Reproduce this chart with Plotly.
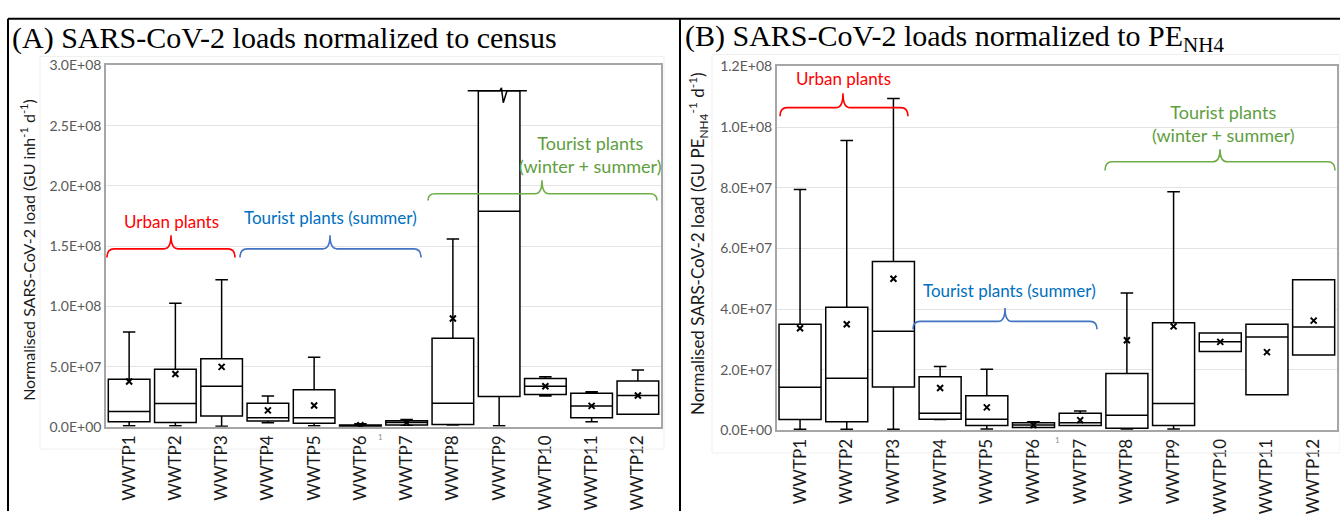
import plotly.graph_objects as go

# ---------------- data ----------------
categories = ["WWTP1", "WWTP2", "WWTP3", "WWTP4", "WWTP5", "WWTP6",
              "WWTP7", "WWTP8", "WWTP9", "WWTP10", "WWTP11", "WWTP12"]

# Panel A: loads normalised to census (GU inh-1 d-1)
a_min    = [1.0e6, 1.0e6, 0.5e6, 3.5e6, 1.0e6, 0.2e6, 1.4e6, 1.5e6, 1.0e6, 2.57e7, 4.3e6, 1.04e7]
a_q1     = [4.3e6, 3.7e6, 9.1e6, 4.8e6, 3.0e6, 0.5e6, 1.6e6, 2.0e6, 2.52e7, 2.68e7, 7.5e6, 1.04e7]
a_median = [1.28e7, 1.93e7, 3.37e7, 7.5e6, 7.5e6, 1.0e6, 3.7e6, 1.95e7, 1.79e8, 3.37e7, 1.74e7, 2.60e7]
a_q3     = [3.96e7, 4.79e7, 5.65e7, 1.95e7, 3.08e7, 1.5e6, 5.0e6, 7.36e7, 2.79e8, 4.01e7, 2.78e7, 3.80e7]
a_max    = [7.87e7, 1.025e8, 1.22e8, 2.57e7, 5.78e7, 2.5e6, 6.0e6, 1.56e8, 2.79e8, 4.15e7, 2.92e7, 4.71e7]
a_mean   = [3.77e7, 4.39e7, 4.98e7, 1.37e7, 1.77e7, 1.3e6, 3.5e6, 8.99e7, None, 3.37e7, 1.74e7, 2.60e7]

# Panel B: loads normalised to PE_NH4 (GU PE_NH4-1 d-1)
b_min    = [0.4e6, 0.4e6, 0.4e6, 3.6e6, 0.5e6, 1.0e6, 1.6e6, 0.5e6, 0.5e6, 2.60e7, 1.18e7, 2.49e7]
b_q1     = [3.6e6, 2.9e6, 1.43e7, 3.7e6, 1.6e6, 1.0e6, 1.6e6, 0.7e6, 1.6e6, 2.60e7, 1.18e7, 2.49e7]
b_median = [1.42e7, 1.72e7, 3.27e7, 5.7e6, 3.7e6, 1.8e6, 2.55e6, 5.0e6, 8.9e6, 2.92e7, 3.08e7, 3.41e7]
b_q3     = [3.50e7, 4.06e7, 5.57e7, 1.77e7, 1.14e7, 2.55e6, 5.7e6, 1.88e7, 3.55e7, 3.21e7, 3.50e7, 4.97e7]
b_max    = [7.94e7, 9.56e7, 1.094e8, 2.11e7, 2.02e7, 2.9e6, 6.4e6, 4.53e7, 7.87e7, 3.21e7, 3.50e7, 4.97e7]
b_mean   = [3.37e7, 3.50e7, 5.00e7, 1.40e7, 7.6e6, 1.8e6, 3.4e6, 2.97e7, 3.43e7, 2.92e7, 2.58e7, 3.62e7]

a_ticks = [0, 5e7, 1e8, 1.5e8, 2e8, 2.5e8, 3e8]
b_ticks = [0, 2e7, 4e7, 6e7, 8e7, 1e8, 1.2e8]

# ---------------- helpers ----------------
W, H = 1340, 519
def px(x):
    return x / W
def py(y):
    return 1 - y / H

pos = list(range(len(categories)))
LABEL_FONT = "Lato, 'Open Sans', sans-serif"

fig = go.Figure()

def add_panel(xa, ya, q1, med, q3, lo, hi, mean):
    fig.add_trace(go.Box(
        x=pos, q1=q1, median=med, q3=q3, lowerfence=lo, upperfence=hi,
        width=0.9, whiskerwidth=0.3, fillcolor="white",
        line=dict(color="black", width=1.5), boxpoints=False,
        xaxis=xa, yaxis=ya, showlegend=False, hoverinfo="skip"))
    fig.add_trace(go.Scatter(
        x=pos, y=mean, mode="markers",
        marker=dict(symbol="x-thin", size=6, line=dict(color="black", width=2)),
        xaxis=xa, yaxis=ya, showlegend=False, hoverinfo="skip"))

add_panel("x", "y", a_q1, a_median, a_q3, a_min, a_max, a_mean)
add_panel("x2", "y2", b_q1, b_median, b_q3, b_min, b_max, b_mean)

# axis-break marker on top of WWTP9 (panel A), derived from its Q3
i9 = categories.index("WWTP9")
q = a_q3[i9]
fig.add_trace(go.Scatter(
    x=[i9 - 0.68, i9 + 0.02, i9 + 0.05, i9 + 0.09, i9 + 0.17, i9 + 0.6],
    y=[q, q, q + 2.4e6, q - 1.0e7, q, q],
    mode="lines", line=dict(color="black", width=1.5),
    xaxis="x", yaxis="y", showlegend=False, hoverinfo="skip"))

def fmt(v):
    return f"{v:.1E}"

axis_common = dict(showline=True, mirror=True, linecolor="#a6a6a6", linewidth=1.5,
                   ticks="", zeroline=False)
fig.update_layout(
    width=W, height=H, margin=dict(l=0, r=0, t=0, b=0),
    paper_bgcolor="white", plot_bgcolor="white",
    xaxis=dict(domain=[px(106), px(661)], range=[-0.5, 11.5], tickvals=pos,
               ticktext=categories, tickangle=-90, showgrid=False, anchor="y",
               tickfont=dict(family=LABEL_FONT, size=17, color="#1a1a1a"), **axis_common),
    yaxis=dict(domain=[py(432), py(58.3)], range=[0, 3e8], tickvals=a_ticks,
               ticktext=[fmt(v) for v in a_ticks], gridcolor="#e3e3e3", anchor="x",
               tickfont=dict(family=LABEL_FONT, size=14, color="#595959"), **axis_common),
    xaxis2=dict(domain=[px(776.7), px(1337)], range=[-0.5, 11.5], tickvals=pos,
                ticktext=categories, tickangle=-90, showgrid=False, anchor="y2",
                tickfont=dict(family=LABEL_FONT, size=17, color="#1a1a1a"), **axis_common),
    yaxis2=dict(domain=[py(435.7), py(59.3)], range=[0, 1.2e8], tickvals=b_ticks,
                ticktext=[fmt(v) for v in b_ticks], gridcolor="#e3e3e3", anchor="x2",
                tickfont=dict(family=LABEL_FONT, size=14, color="#595959"), **axis_common),
)

shapes = []
# outer black frame lines
for (x0, y0, x1, y1) in [(8, 10, 1340, 10), (8, 10, 8, 519), (680, 10, 680, 519)]:
    shapes.append(dict(type="line", xref="paper", yref="paper",
                       x0=px(x0), y0=py(y0), x1=px(x1), y1=py(y1),
                       line=dict(color="black", width=2)))
# faint chart-area borders
for (x0, y0, x1, y1) in [(40, 49, 664, 455), (712, 47, 1340, 459)]:
    shapes.append(dict(type="rect", xref="paper", yref="paper",
                       x0=px(x0), y0=py(y0), x1=px(x1), y1=py(y1),
                       line=dict(color="#efefef", width=1)))

def brace(x0, x1, xc, ymid, ytip, yend, color):
    r = 7
    pts = [("M", [(x0, yend)]),
           ("Q", [(x0, ymid), (x0 + r, ymid)]),
           ("L", [(xc - r, ymid)]),
           ("Q", [(xc, ymid), (xc, ytip)]),
           ("Q", [(xc, ymid), (xc + r, ymid)]),
           ("L", [(x1 - r, ymid)]),
           ("Q", [(x1, ymid), (x1, yend)])]
    d = ""
    for cmd, coords in pts:
        d += cmd + " " + " ".join(f"{px(a):.5f},{py(b):.5f}" for a, b in coords) + " "
    return dict(type="path", xref="paper", yref="paper", path=d.strip(),
                line=dict(color=color, width=1.6))

RED, BLUE_T, BLUE_B, GREEN_T, GREEN_B = "#ff0000", "#0070c0", "#4472c4", "#5e9e3e", "#70ad47"
shapes += [
    brace(107, 235, 171, 248, 234, 257, RED),
    brace(240, 421, 330, 248, 234, 257, BLUE_B),
    brace(428, 657, 542, 191, 177, 198, GREEN_B),
    brace(780, 908, 843, 102, 87, 111, RED),
    brace(913, 1097, 1005, 323, 309, 331, BLUE_B),
    brace(1105, 1335, 1220, 158, 145, 167, GREEN_B),
]
fig.update_layout(shapes=shapes)

ann = []
def text(x, y, s, color="black", size=17, family=LABEL_FONT, xanchor="center", angle=0):
    ann.append(dict(x=px(x), y=py(y), xref="paper", yref="paper", text=s, showarrow=False,
                    xanchor=xanchor, yanchor="middle", textangle=angle,
                    font=dict(family=family, size=size, color=color)))

SERIF = "'Liberation Serif', 'Times New Roman', serif"
text(10, 30, "(A) SARS-CoV-2 loads normalized to census", size=30, family=SERIF, xanchor="left")
text(683, 30, "(B) SARS-CoV-2 loads normalized to PE<sub>NH4</sub>", size=30, family=SERIF, xanchor="left")
text(28, 249, "Normalised SARS-CoV-2 load (GU inh<sup>-1</sup> d<sup>-1</sup>)", size=16, color="#1a1a1a", angle=-90)
text(698, 243, "Normalised SARS-CoV-2 load (GU PE<sub>NH4</sub><sup>-1</sup> d<sup>-1</sup>)", size=17, color="#1a1a1a", angle=-90)
text(171, 220, "Urban plants", RED)
text(330, 216, "Tourist plants (summer)", BLUE_T)
text(590, 150, "Tourist plants<br>(winter + summer)", GREEN_T, size=18)
text(843, 72, "Urban plants", RED)
text(1010, 291, "Tourist plants (summer)", BLUE_T)
text(1223, 118, "Tourist plants<br>(winter + summer)", GREEN_T, size=18)
text(380, 442, "1", "#8c8c8c", size=8)
text(1057, 446, "1", "#8c8c8c", size=8)
fig.update_layout(annotations=ann)

fig.write_html("out.html")
